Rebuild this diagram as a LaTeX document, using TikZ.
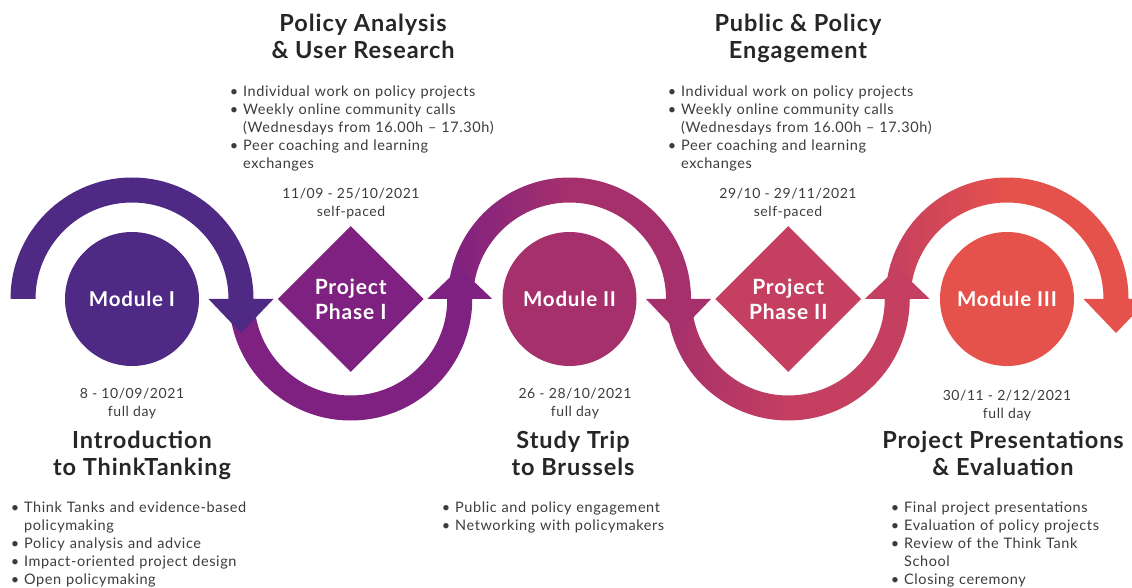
\documentclass[tikz,border=0pt]{standalone}
\usepackage{fontspec}
\setmainfont{Lato}[LetterSpace=4]
\usepackage{enumitem}
\usepackage{tikz}
\usetikzlibrary{shapes.geometric}

\definecolor{modIcol}{RGB}{78,42,132}
\definecolor{phIcol}{RGB}{126,33,129}
\definecolor{modIIcol}{RGB}{166,48,107}
\definecolor{phIIcol}{RGB}{196,63,96}
\definecolor{modIIIcol}{RGB}{229,82,76}
\definecolor{txt}{RGB}{60,60,60}

\setlist[itemize]{leftmargin=11pt,labelsep=5pt,nosep,label=\textbullet}

\tikzset{
  module/.style={circle,fill=#1,minimum size=134pt,inner sep=0pt,text=white,
    font=\fontsize{20.5}{24}\selectfont\bfseries},
  phase/.style={diamond,aspect=1,fill=#1,minimum size=146pt,inner sep=0pt,
    align=center,text=white,font=\fontsize{21}{25}\selectfont\bfseries},
  heading/.style={anchor=north,align=center,inner sep=0pt,text=black!85,
    font=\fontsize{23.5}{27}\selectfont\bfseries},
  dates/.style={anchor=north,align=center,inner sep=0pt,text=txt,
    font=\fontsize{14}{18}\selectfont},
  bullets/.style={anchor=north west,text width=300pt,inner sep=0pt,text=txt,
    font=\fontsize{14.5}{18}\selectfont},
}

\begin{document}
\begin{tikzpicture}[x=1pt,y=1pt]
    \useasboundingbox (0,0) rectangle (1132,587);
    \clip (0,0) rectangle (1132,587);

    % stations
    \node[module=modIcol] (modI) at (132,288) {Module I};
    \node[phase=phIcol] (phaseI) at (350.75,288) {Project\\Phase I};
    \node[module=modIIcol] (modII) at (569.5,288) {Module II};
    \node[phase=phIIcol] (phaseII) at (788.25,288) {Project\\Phase II};
    \node[module=modIIIcol] (modIII) at (1007,288) {Module III};

    % bands
    \fill[modIcol] ([xshift=-121.5pt]modI.center) arc[start angle=180,end angle=0,radius=121.5pt]
      -- ([xshift=96.5pt]modI.center) arc[start angle=0,end angle=180,radius=96.5pt] -- cycle;
    \fill[phIcol] ([xshift=-121.5pt]phaseI.center) arc[start angle=180,end angle=360,radius=121.5pt]
      -- ([xshift=96.5pt]phaseI.center) arc[start angle=360,end angle=180,radius=96.5pt] -- cycle;
    \shade[left color=phIcol,right color=modIIcol,middle color=modIIcol]
      ([xshift=-121.5pt]modII.center) arc[start angle=180,end angle=0,radius=121.5pt]
      -- ([xshift=96.5pt]modII.center) arc[start angle=0,end angle=180,radius=96.5pt] -- cycle;
    \shade[left color=modIIcol,right color=phIIcol,middle color=phIIcol]
      ([xshift=-121.5pt]phaseII.center) arc[start angle=180,end angle=360,radius=121.5pt]
      -- ([xshift=96.5pt]phaseII.center) arc[start angle=360,end angle=180,radius=96.5pt] -- cycle;
    \shade[left color=phIIcol,right color=modIIIcol,middle color=modIIIcol]
      ([xshift=-121.5pt]modIII.center) arc[start angle=180,end angle=0,radius=121.5pt]
      -- ([xshift=96.5pt]modIII.center) arc[start angle=0,end angle=180,radius=96.5pt] -- cycle;

    % arrow heads
    \fill[modIcol] ([xshift=76.5pt]modI.center) -- ([xshift=141.5pt]modI.center)
      -- ([xshift=109pt,yshift=-34pt]modI.center) -- cycle;
    \fill[phIcol] ([xshift=76.5pt]phaseI.center) -- ([xshift=141.5pt]phaseI.center)
      -- ([xshift=109pt,yshift=31pt]phaseI.center) -- cycle;
    \fill[modIIcol] ([xshift=76.5pt]modII.center) -- ([xshift=141.5pt]modII.center)
      -- ([xshift=109pt,yshift=-34pt]modII.center) -- cycle;
    \fill[phIIcol] ([xshift=76.5pt]phaseII.center) -- ([xshift=141.5pt]phaseII.center)
      -- ([xshift=109pt,yshift=31pt]phaseII.center) -- cycle;
    \fill[modIIIcol] ([xshift=76.5pt]modIII.center) -- ([xshift=141.5pt]modIII.center)
      -- ([xshift=109pt,yshift=-34pt]modIII.center) -- cycle;

    % top texts
    \node[heading] (headPhI) at (363,573) {Policy Analysis\\\& User Research};
    \node[bullets] (listPhI) at (232,509) {\begin{itemize}
      \item Individual work on policy projects
      \item Weekly online community calls\newline(Wednesdays from 16.00h – 17.30h)
      \item Peer coaching and learning\newline exchanges
    \end{itemize}};
    \node[dates] (datePhI) at (351,399) {11/09 - 25/10/2021\\self-paced};

    \node[heading] (headPhII) at (798,573) {Public \& Policy\\Engagement};
    \node[bullets] (listPhII) at (670,509) {\begin{itemize}
      \item Individual work on policy projects
      \item Weekly online community calls\newline(Wednesdays from 16.00h – 17.30h)
      \item Peer coaching and learning\newline exchanges
    \end{itemize}};
    \node[dates] (datePhII) at (788,399) {29/10 - 29/11/2021\\self-paced};

    % bottom texts
    \node[dates] (dateModI) at (132,199) {8 - 10/09/2021\\full day};
    \node[heading] (headModI) at (142,156) {Introduction\\to ThinkTanking};
    \node[bullets] (listModI) at (13,93) {\begin{itemize}
      \item Think Tanks and evidence-based\newline policymaking
      \item Policy analysis and advice
      \item Impact-oriented project design
      \item Open policymaking
    \end{itemize}};

    \node[dates] (dateModII) at (575,199) {26 - 28/10/2021\\full day};
    \node[heading] (headModII) at (573,156) {Study Trip\\to Brussels};
    \node[bullets] (listModII) at (444,93) {\begin{itemize}
      \item Public and policy engagement
      \item Networking with policymakers
    \end{itemize}};

    \node[dates] (dateModIII) at (1007,197) {30/11 - 2/12/2021\\full day};
    \node[heading] (headModIII) at (1003,156) {Project Presentations\\\& Evaluation};
    \node[bullets] (listModIII) at (893,93) {\begin{itemize}
      \item Final project presentations
      \item Evaluation of policy projects
      \item Review of the Think Tank\newline School
      \item Closing ceremony
    \end{itemize}};
\end{tikzpicture}
\end{document}
